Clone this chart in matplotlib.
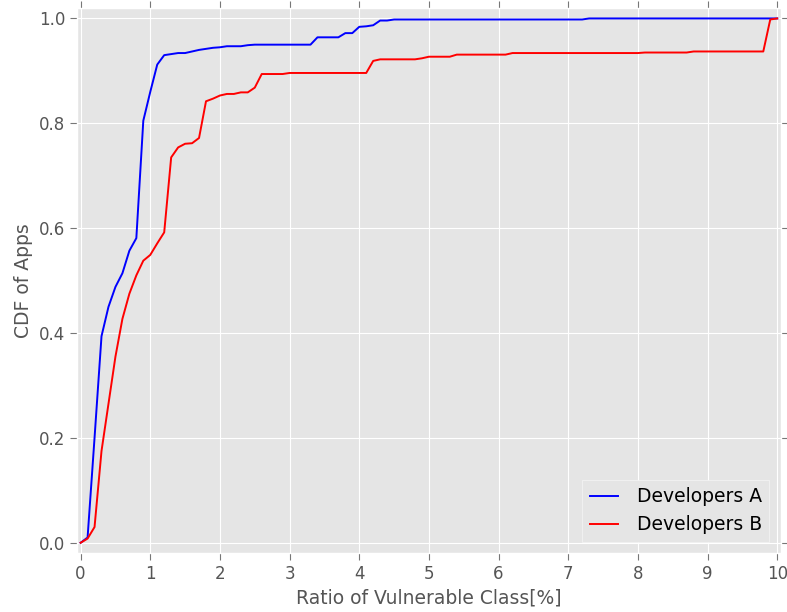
import numpy as np
import matplotlib
matplotlib.use("Agg")
import matplotlib.pyplot as plt

plt.style.use("ggplot")

# ratio of vulnerable classes, sampled every 0.1 %
ratio = np.linspace(0, 10, 101)

cdf_a = [0.000, 0.010, 0.200, 0.394, 0.450, 0.488, 0.514, 0.557, 0.581, 0.805,
         0.860, 0.912, 0.930, 0.932, 0.934, 0.934, 0.937, 0.940, 0.942, 0.944,
         0.945, 0.947, 0.947, 0.947, 0.949, 0.950, 0.950, 0.950, 0.950, 0.950,
         0.950, 0.950, 0.950, 0.950, 0.964, 0.964, 0.964, 0.964, 0.972, 0.972,
         0.984, 0.985, 0.987, 0.996, 0.996, 0.998, 0.998, 0.998, 0.998, 0.998,
         0.998, 0.998, 0.998, 0.998, 0.998, 0.998, 0.998, 0.998, 0.998, 0.998,
         0.998, 0.998, 0.998, 0.998, 0.998, 0.998, 0.998, 0.998, 0.998, 0.998,
         0.998, 0.998, 0.998, 1.000, 1.000, 1.000, 1.000, 1.000, 1.000, 1.000,
         1.000, 1.000, 1.000, 1.000, 1.000, 1.000, 1.000, 1.000, 1.000, 1.000,
         1.000, 1.000, 1.000, 1.000, 1.000, 1.000, 1.000, 1.000, 1.000, 1.000,
         1.000]

cdf_b = [0.000, 0.008, 0.030, 0.175, 0.265, 0.355, 0.427, 0.475, 0.510, 0.538,
         0.549, 0.571, 0.592, 0.735, 0.754, 0.761, 0.762, 0.772, 0.842, 0.847,
         0.853, 0.856, 0.856, 0.859, 0.859, 0.868, 0.894, 0.894, 0.894, 0.894,
         0.896, 0.896, 0.896, 0.896, 0.896, 0.896, 0.896, 0.896, 0.896, 0.896,
         0.896, 0.896, 0.919, 0.922, 0.922, 0.922, 0.922, 0.922, 0.922, 0.924,
         0.927, 0.927, 0.927, 0.927, 0.931, 0.931, 0.931, 0.931, 0.931, 0.931,
         0.931, 0.931, 0.934, 0.934, 0.934, 0.934, 0.934, 0.934, 0.934, 0.934,
         0.934, 0.934, 0.934, 0.934, 0.934, 0.934, 0.934, 0.934, 0.934, 0.934,
         0.934, 0.935, 0.935, 0.935, 0.935, 0.935, 0.935, 0.935, 0.937, 0.937,
         0.937, 0.937, 0.937, 0.937, 0.937, 0.937, 0.937, 0.937, 0.937, 0.998,
         1.000]

fig = plt.figure(figsize=(7.87, 6.12), dpi=100)
ax = fig.add_axes([0.098, 0.096, 0.894, 0.891])
ax.plot(ratio, cdf_a, color="blue", lw=1.4, label="Developers A")
ax.plot(ratio, cdf_b, color="red", lw=1.4, label="Developers B")

ax.set_xlim(-0.05, 10.05)
ax.set_ylim(-0.02, 1.02)
ax.set_xticks(range(0, 11))
ax.set_yticks([0.0, 0.2, 0.4, 0.6, 0.8, 1.0])
ax.tick_params(axis="both", which="major", labelsize=12, direction="out",
               length=5, color="#777777", labelcolor="#555555",
               top=True, right=True)
ax.set_xlabel("Ratio of Vulnerable Class[%]", fontsize=13.5, color="#555555")
ax.set_ylabel("CDF of Apps", fontsize=13.5, color="#555555")

leg = ax.legend(loc="lower right", fontsize=13.5, facecolor="#E5E5E5",
                edgecolor="#F5F5F5", framealpha=1.0, fancybox=False,
                handlelength=1.5, handletextpad=1.0, borderaxespad=0.6)
for t in leg.get_texts():
    t.set_color("black")

fig.savefig("out.png", dpi=100)
